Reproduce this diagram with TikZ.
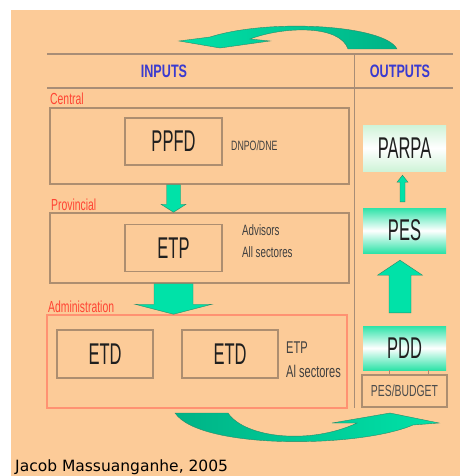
\documentclass[tikz,border=0pt]{standalone}
\usepackage{fontspec}
\usepackage{xcolor}
\usepackage{tikz}
\usetikzlibrary{calc}
\usetikzlibrary{arrows.meta}
\usetikzlibrary{positioning}

\newfontfamily\narrowfont[FakeStretch=0.55]{Liberation Sans}
\newfontfamily\slimfont[FakeStretch=0.65]{Liberation Sans}
\newfontfamily\headfont[FakeStretch=0.7]{Liberation Sans}
\newfontfamily\creditfont{DejaVu Sans}

\definecolor{peach}{HTML}{FCCB98}
\definecolor{boxline}{HTML}{AD8E70}
\definecolor{ruleline}{HTML}{A88D76}
\definecolor{arrowgreen}{HTML}{00E2A8}
\definecolor{arrowdark}{HTML}{00B386}
\definecolor{arrowedge}{HTML}{2C8A68}
\definecolor{levelred}{HTML}{FF4433}
\definecolor{headblue}{HTML}{3A3AD0}
\definecolor{outgreen}{HTML}{2EE3A8}
\definecolor{palegreen}{HTML}{CFF3D8}
\definecolor{salmon}{HTML}{FF9272}

\tikzstyle{divider} = [draw = ruleline, line width = 1.5pt]
\tikzstyle{tier} = [draw = boxline, line width = 1.5pt, inner sep = 0]
\tikzstyle{leveltag} = [inner sep = 0, text = levelred, font = \slimfont\fontsize{16}{16}\selectfont]
\tikzstyle{unit} = [draw = boxline, line width = 1.5pt, minimum width = 97pt, minimum height = 47pt, text = black!88, font = \narrowfont\fontsize{30}{30}\selectfont]
\tikzstyle{notetext} = [inner sep = 0, text = black!75, font = \slimfont\fontsize{15}{15}\selectfont]
\tikzstyle{header} = [inner sep = 0, text = headblue, font = \headfont\bfseries\fontsize{18}{18}\selectfont]
\tikzstyle{output} = [minimum width = 83pt, minimum height = 45pt, inner sep = 0, top color = outgreen, bottom color = outgreen, middle color = white, text = black!88, font = \narrowfont\fontsize{30}{30}\selectfont]
\tikzstyle{budget} = [draw = boxline, line width = 1.5pt, minimum width = 85pt, minimum height = 32pt, inner sep = 0, text = black!70, font = \slimfont\fontsize{16}{16}\selectfont]
\tikzstyle{blockarrow} = [fill = arrowgreen, draw = arrowedge, line width = 0.4pt]
\tikzstyle{curvearrow} = [draw = arrowedge, line width = 0.4pt]

% block arrow: start, tip, shaft half width, head half width, head length, direction (1 down, -1 up)
\newcommand{\blockarrow}[6]{%
  \filldraw [blockarrow] let \p1 = (#1), \p2 = (#2) in
    ({\x1 - #3}, {\y1}) -- ({\x1 + #3}, {\y1}) -- ({\x1 + #3}, {\y2 + #6 * #5}) -- ({\x1 + #4}, {\y2 + #6 * #5})
    -- ({\x1}, {\y2}) -- ({\x1 - #4}, {\y2 + #6 * #5}) -- ({\x1 - #3}, {\y2 + #6 * #5}) -- cycle;}

\begin{document}
\begin{tikzpicture}[x = 1pt, y = -1pt]
\useasboundingbox (0, 0) rectangle (460, 476);
\fill [peach] (11, 10) rectangle (460, 476);

% top curved arrow
\shadedraw [curvearrow, left color = arrowgreen, right color = arrowdark] (348, 49) -- (397, 49) .. controls (385, 25) and (270, 18) .. (210, 37) -- (179, 41) -- (220, 48) -- (270, 41) -- (250, 39) .. controls (285, 26) and (340, 25) .. (348, 49) -- cycle;

\draw [divider] (47, 54) -- (453, 54);
\draw [divider] (47, 88) -- (453, 88);
\draw [divider, line width = 1pt] (354, 54) -- (354, 408);
\node [header] (inputs) at (164, 71) {INPUTS};
\node [header] (outputs) at (400, 71) {OUTPUTS};

% inputs
\node [tier, minimum width = 299pt, minimum height = 76pt] (central) at (199.5, 146) {};
\node [tier, minimum width = 299pt, minimum height = 70pt] (provincial) at (199.5, 248) {};
\node [tier, draw = salmon, minimum width = 300pt, minimum height = 93pt] (admin) at (197, 361.5) {};
\node [leveltag, anchor = base west] (centraltag) at (50, 105) {Central};
\node [leveltag, anchor = base west] (provincialtag) at (51, 210) {Provincial};
\node [leveltag, anchor = base west] (admintag) at (48, 312) {Administration};

\node [unit] (PPFD) at (173.5, 141.5) {PPFD};
\node [unit] (ETP) at (173.5, 248) {ETP};
\node [unit, minimum width = 96pt, minimum height = 48pt] (ETD1) at (105, 354) {ETD};
\node [unit, minimum width = 96pt, minimum height = 48pt] (ETD2) at (230, 354) {ETD};

\node [notetext, anchor = west, font = \slimfont\fontsize{13.5}{13.5}\selectfont] (dnpo) at (231, 146) {DNPO/DNE};
\node [notetext, anchor = base west] (advisors) at (242, 235) {Advisors};
\node [notetext, anchor = base west] (allsect) at (242, 257) {All sectores};
\node [notetext, anchor = base west, font = \slimfont\fontsize{17}{17}\selectfont] (etpnote) at (286, 353) {ETP};
\node [notetext, anchor = base west, font = \slimfont\fontsize{17}{17}\selectfont] (alsect) at (286, 377) {Al sectores};

\blockarrow{PPFD |- central.south}{PPFD |- provincial.north}{7pt}{12.5pt}{8pt}{1}
\blockarrow{ETP |- provincial.south}{ETP |- admin.north}{19.5pt}{38.5pt}{10pt}{1}

% outputs
\node [output, minimum height = 46pt, top color = palegreen, bottom color = palegreen, middle color = white] (PARPA) at (404.5, 148) {PARPA};
\node [output] (PES) at (404.5, 230.5) {PES};
\node [output, minimum height = 44pt] (PDD) at (404.5, 348) {PDD};
\node [budget] (budget) at (404.5, 391) {PES/BUDGET};
\draw [draw = boxline, line width = 0.8pt] ([xshift = -15.5pt] PDD.south) -- ([xshift = -15.5pt] budget.north);
\draw [draw = boxline, line width = 0.8pt] ([xshift = 23.5pt] PDD.south) -- ([xshift = 23.5pt] budget.north);

\blockarrow{[xshift = -2pt, yshift = 6pt] PES.north}{[xshift = -2pt, yshift = -4pt] PARPA.south}{2.5pt}{5.5pt}{7pt}{-1}
\blockarrow{[xshift = -4.5pt, yshift = 13pt] PDD.north}{[xshift = -4.5pt, yshift = -7pt] PES.south}{11pt}{22.5pt}{15pt}{-1}

% bottom curved arrow
\shadedraw [curvearrow, left color = arrowdark, right color = arrowgreen] (175, 413) -- (228, 413) .. controls (245, 438) and (310, 445) .. (357, 423) -- (332, 423) -- (390, 413) -- (439, 423) -- (413, 425) .. controls (360, 448) and (200, 450) .. (175, 413) -- cycle;

\node [inner sep = 0, anchor = base west, font = \creditfont\fontsize{15.5}{15.5}\selectfont] (credit) at (15, 471) {Jacob Massuanganhe, 2005};
\end{tikzpicture}
\end{document}
